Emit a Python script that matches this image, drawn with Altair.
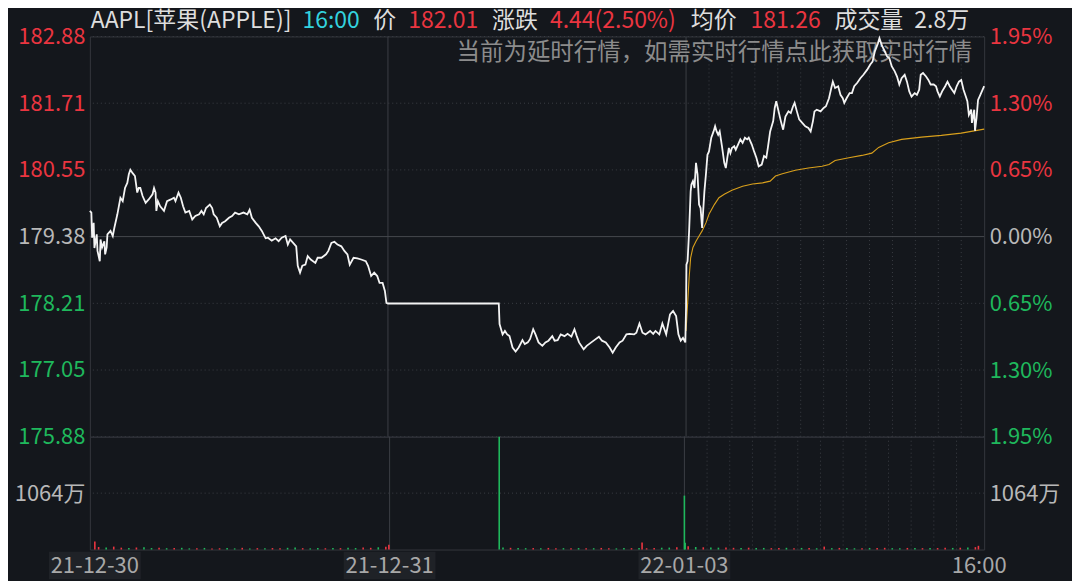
import altair as alt
import pandas as pd

FONT = "Noto Sans CJK SC"
BG = "#14171c"
RED = "#ea3540"
GREEN = "#1fb85c"
LABEL_GRAY = "#b8b8b8"
GRID = "#3b3e44"
BORDER = "#34373d"
LINE = "#f4f4f4"
AVG = "#d9a01c"
CYAN = "#33d2de"
WHITE_TXT = "#dedede"

SESSION = 390
session_labels = ["21-12-30", "21-12-31", "22-01-03", "16:00"]

price_ticks = [182.88, 181.71, 180.55, 179.38, 178.21, 177.05, 175.88]
pct_ticks = [1.95, 1.30, 0.65, 0.00, -0.65, -1.30, -1.95]
vol_max = 2128
vol_tick = 1064

# ---- minute price series per session (minutes after open) ----
d1_t = [0, 2, 3, 5, 6, 9, 10, 13, 14, 16, 19, 20, 22, 23, 27, 30, 32, 36, 40, 43,
        46, 49, 51, 53, 56, 59, 62, 64, 66, 69, 73, 77, 82, 84, 86, 87, 89, 92, 97, 101,
        106, 110, 112, 116, 119, 122, 125, 130, 134, 138, 143, 146, 149, 152, 157, 160, 162, 166, 170, 173,
        177, 182, 186, 190, 195, 201, 206, 209, 212, 217, 221, 225, 230, 233, 238, 243, 247, 251, 256, 259,
        262, 266, 270, 272, 275, 278, 282, 285, 289, 295, 298, 303, 309, 312, 316, 320, 324, 329, 333, 337,
        340, 345, 350, 355, 361, 364, 368, 372, 376, 379, 383, 386, 388, 390]
d1_p = [179.83, 179.80, 179.36, 179.62, 179.18, 179.42, 179.13, 178.95, 179.33, 179.19,
        179.30, 179.07, 179.19, 179.42, 179.48, 179.39, 179.53, 179.77, 180.06, 180.00,
        180.23, 180.32, 180.47, 180.55, 180.49, 180.44, 180.15, 180.23, 180.23, 180.09,
        179.97, 180.03, 180.12, 180.23, 180.15, 179.83, 180.00, 179.91, 179.83, 180.00,
        180.03, 180.06, 180.00, 180.15, 180.06, 179.91, 179.80, 179.83, 179.68, 179.74,
        179.77, 179.83, 179.77, 179.88, 179.94, 179.88, 179.77, 179.71, 179.56, 179.62,
        179.65, 179.71, 179.74, 179.80, 179.77, 179.80, 179.77, 179.85, 179.71, 179.62,
        179.56, 179.48, 179.35, 179.36, 179.31, 179.35, 179.30, 179.36, 179.39, 179.24,
        179.33, 179.27, 179.21, 178.87, 178.75, 178.87, 178.89, 179.04, 178.98, 178.92,
        179.01, 179.01, 179.07, 179.13, 179.27, 179.29, 179.24, 179.21, 179.13, 179.07,
        178.89, 179.01, 179.00, 178.98, 178.95, 178.87, 178.69, 178.75, 178.69, 178.57,
        178.57, 178.43, 178.22, 178.21]

d2_t = [0, 145, 146, 150, 153, 156, 159, 163, 167, 171, 176, 179, 183, 186, 190, 193, 197, 202, 206, 210,
        215, 218, 222, 226, 231, 235, 240, 244, 247, 250, 256, 260, 266, 270, 276, 280, 285, 290, 294, 298,
        303, 307, 312, 316, 322, 325, 329, 333, 337, 343, 347, 350, 355, 359, 364, 369, 373, 377, 380, 383,
        386, 389]
d2_p = [178.21, 178.21, 177.85, 177.67, 177.73, 177.67, 177.64, 177.44, 177.37, 177.44,
        177.57, 177.50, 177.53, 177.59, 177.76, 177.67, 177.53, 177.47, 177.53, 177.56,
        177.64, 177.56, 177.57, 177.67, 177.64, 177.68, 177.63, 177.76, 177.64, 177.53,
        177.41, 177.47, 177.53, 177.57, 177.63, 177.56, 177.53, 177.44, 177.35, 177.44,
        177.53, 177.56, 177.67, 177.68, 177.67, 177.70, 177.86, 177.70, 177.67, 177.73,
        177.68, 177.73, 177.67, 177.86, 177.67, 178.02, 178.08, 177.99, 177.67, 177.56,
        177.61, 177.53]

d3_t = [0, 0.5, 2, 4, 6, 7, 9, 11, 13, 15, 17, 19, 21, 24, 26, 28, 30, 33, 36, 38,
        40, 42, 44, 47, 50, 52, 54, 56, 58, 60, 63, 65, 68, 71, 74, 77, 80, 82, 86, 89,
        92, 95, 99, 102, 105, 107, 110, 114, 116, 118, 120, 124, 127, 130, 134, 137, 140, 142, 145, 148,
        152, 156, 160, 163, 166, 168, 171, 176, 180, 183, 187, 190, 192, 195, 199, 202, 205, 207, 210, 214,
        217, 220, 224, 228, 232, 237, 241, 244, 247, 251, 253, 256, 260, 263, 266, 269, 273, 276, 279, 282,
        286, 289, 292, 295, 299, 302, 305, 307, 310, 314, 317, 320, 324, 327, 329, 332, 335, 339, 342, 345,
        348, 351, 354, 357, 360, 363, 366, 368, 370, 373, 374, 377, 378, 380, 382, 384, 387, 389, 390]
d3_p = [178.14, 178.89, 178.95, 179.48, 180.17, 180.29, 180.35, 180.23, 180.67, 180.47,
        179.94, 179.88, 179.53, 180.17, 180.47, 180.81, 180.87, 181.11, 181.22, 181.31,
        181.22, 181.16, 181.22, 180.96, 180.67, 180.58, 180.76, 180.93, 180.84, 180.93,
        180.96, 180.90, 180.99, 181.08, 181.02, 181.11, 181.08, 181.11, 180.99, 180.87,
        180.76, 180.61, 180.64, 180.79, 180.76, 180.93, 181.22, 181.40, 181.63, 181.75,
        181.63, 181.40, 181.25, 181.48, 181.57, 181.54, 181.66, 181.72, 181.57, 181.43,
        181.37, 181.31, 181.28, 181.22, 181.40, 181.57, 181.60, 181.57, 181.63, 181.66,
        181.80, 181.98, 182.09, 181.98, 182.01, 181.86, 181.80, 181.72, 181.80, 181.89,
        181.89, 182.01, 182.07, 182.15, 182.21, 182.30, 182.39, 182.44, 182.62, 182.76,
        182.85, 182.73, 182.62, 182.53, 182.50, 182.36, 182.27, 182.18, 182.04, 182.15,
        182.21, 182.09, 181.92, 181.83, 181.89, 181.86, 181.95, 182.21, 182.24, 182.18,
        182.12, 182.04, 182.04, 182.01, 181.92, 181.83, 181.92, 182.01, 182.09, 182.01,
        181.95, 181.89, 182.01, 182.09, 182.12, 181.95, 181.83, 181.75, 181.51, 181.60,
        181.37, 181.60, 181.23, 181.45, 181.77, 181.83, 181.92, 181.98, 182.01]

# average price (session 3 only)
avg_t = [0, 2, 4, 6, 9, 13, 17, 21, 26, 30, 37, 43, 50, 60, 74, 87, 100, 110, 117, 126,
         143, 160, 178, 187, 195, 213, 230, 243, 252, 265, 282, 308, 334, 360, 390]
avg_p = [177.73, 178.20, 178.66, 179.01, 179.19, 179.30, 179.39, 179.48, 179.62, 179.77,
         179.94, 180.06, 180.12, 180.19, 180.26, 180.30, 180.32, 180.35, 180.44, 180.48,
         180.54, 180.58, 180.61, 180.64, 180.71, 180.76, 180.80, 180.84, 180.94, 181.02,
         181.08, 181.12, 181.15, 181.19, 181.26]

# ---- volume (万) ----
d1_vol = [48, 40, 55, 35, 30, 38, 42, 28, 33, 25, 28, 32, 22, 26, 30, 20, 24, 27, 22, 32,
          20, 26, 22, 28, 24, 32, 36, 26, 22, 28, 24, 30, 26, 32, 28, 36, 32, 42, 50]
d1_dir = ["r", "g", "r", "r", "g", "r", "g", "g", "r", "g", "r", "g", "g", "r", "g", "r", "r", "g", "g", "r",
          "g", "r", "g", "r", "r", "g", "g", "r", "g", "g", "r", "g", "r", "g", "g", "r", "r", "g", "r"]
d2_vol = [40, 32, 30, 26, 28, 24, 30, 22, 26, 24, 28, 22, 25, 30, 26, 22, 28, 26, 30, 24, 28, 34, 36, 42]
d2_dir = ["g", "r", "g", "g", "r", "g", "r", "r", "g", "r", "g", "r", "g", "r", "r", "g", "g", "r", "g", "r",
          "r", "g", "g", "r"]
d3_vol = [60, 48, 42, 38, 35, 40, 32, 30, 34, 28, 30, 26, 28, 32, 26, 30, 28, 24, 55, 26,
          30, 28, 24, 26, 30, 28, 32, 26, 24, 30, 28, 26, 30, 28, 32, 30, 34, 38, 45]
d3_dir = ["r", "g", "r", "g", "g", "r", "r", "g", "r", "g", "g", "r", "r", "g", "r", "g", "r", "g", "r", "g",
          "r", "g", "g", "r", "g", "r", "r", "g", "g", "r", "g", "r", "g", "r", "r", "g", "r", "g", "r"]
spike_s = [0, 0, 1, 1, 2, 2, 2]
spike_t = [0, 389, 145, 334, 0, 1, 389]
spike_v = [150, 90, 2128, 132, 1017, 130, 70]
spike_d = ["r", "r", "g", "r", "g", "g", "r"]

half_hours = [30, 60, 90, 120, 150, 180, 210, 240, 270, 300, 330, 360]

# ---- tables ----
rows = []
for s, (ts, ps) in enumerate([(d1_t, d1_p), (d2_t, d2_p), (d3_t, d3_p)]):
    for t, p in zip(ts, ps):
        rows.append({"t": s * SESSION + t, "p": p})
price_df = pd.DataFrame(rows)
avg_df = pd.DataFrame({"t": [2 * SESSION + t for t in avg_t], "p": avg_p})

vrows = []
for s, (vals, dirs, times) in enumerate([(d1_vol, d1_dir, range(5, 390, 10)),
                                         (d2_vol, d2_dir, range(150, 390, 10)),
                                         (d3_vol, d3_dir, range(5, 390, 10))]):
    for t, v, d in zip(times, vals, dirs):
        vrows.append({"t": s * SESSION + t, "v": v, "d": d})
for s, t, v, d in zip(spike_s, spike_t, spike_v, spike_d):
    vrows.append({"t": s * SESSION + t, "v": v, "d": d})
vol_df = pd.DataFrame(vrows)

sep_df = pd.DataFrame({"t": [SESSION, 2 * SESSION]})
dot_df = pd.DataFrame({"t": [2 * SESSION + h for h in half_hours]})
hgrid_df = pd.DataFrame({"pct": pct_ticks})
xlab_df = pd.DataFrame({"t": [0, SESSION, 2 * SESSION, 3 * SESSION], "label": session_labels})
one = pd.DataFrame({"k": [0]})

W, H1, H2 = 896, 401, 113
LEFT, TOP, RIGHT, BOTTOM = 81, 27, 87, 24
x_scale = alt.Scale(domain=[0, 3 * SESSION], nice=False, zero=False)
X = alt.X("t:Q", scale=x_scale, axis=None)
p_scale = alt.Scale(domain=[price_ticks[-1], price_ticks[0]], nice=False, zero=False)
pct_scale = alt.Scale(domain=[pct_ticks[-1], pct_ticks[0]], nice=False, zero=False)
v_scale = alt.Scale(domain=[0, vol_max], nice=False)

base_axis = dict(domain=False, ticks=False, grid=False, title=None, labelFont=FONT,
                 labelFontSize=22, labelPadding=5, labelOverlap=False)

left_axis = alt.Axis(orient="left", values=price_ticks,
                     labelExpr="format(datum.value, '.2f')",
                     labelColor={"condition": [{"test": "datum.value > 179.4", "value": RED},
                                               {"test": "datum.value < 179.3", "value": GREEN}],
                                 "value": LABEL_GRAY},
                     **base_axis)
right_axis = alt.Axis(orient="right", values=pct_ticks,
                      labelExpr="format(abs(datum.value), '.2f') + '%'",
                      labelColor={"condition": [{"test": "datum.value > 0.01", "value": RED},
                                                {"test": "datum.value < -0.01", "value": GREEN}],
                                  "value": LABEL_GRAY},
                      **base_axis)

vrule_solid = alt.Chart(sep_df).mark_rule(color=GRID, strokeWidth=1).encode(x=X)
vrule_dot = alt.Chart(dot_df).mark_rule(color=GRID, strokeWidth=1, strokeDash=[1, 3]).encode(x=X)

hgrid_dot = alt.Chart(hgrid_df).transform_filter("datum.pct != 0").mark_rule(
    color=GRID, strokeWidth=1, strokeDash=[1, 3]).encode(
    y=alt.Y("pct:Q", scale=pct_scale, axis=right_axis))
hgrid_solid = alt.Chart(hgrid_df).transform_filter("datum.pct == 0").mark_rule(
    color="#45484e", strokeWidth=1).encode(y=alt.Y("pct:Q", scale=pct_scale, axis=None))

price_line = alt.Chart(price_df).mark_line(color=LINE, strokeWidth=1.8).encode(
    x=X, y=alt.Y("p:Q", scale=p_scale, axis=left_axis))
avg_line = alt.Chart(avg_df).mark_line(color=AVG, strokeWidth=1.1).encode(
    x=X, y=alt.Y("p:Q", scale=p_scale, axis=None))

# invisible frame that fixes the layout bounds (top-left / bottom-right corners)
anchor_top = alt.Chart(one).mark_rule(opacity=0, strokeWidth=0.01).encode(
    x=alt.value(-LEFT), x2=alt.value(W + RIGHT), y=alt.value(-TOP))
anchor_bottom = alt.Chart(one).mark_rule(opacity=0, strokeWidth=0.01).encode(
    x=alt.value(-LEFT), x2=alt.value(W + RIGHT), y=alt.value(H2 + BOTTOM))


def txt(text, x, color, y=-8.6, size=23, align="left", baseline="alphabetic"):
    return alt.Chart(one).mark_text(text=text, color=color, font=FONT, fontSize=size,
                                    align=align, baseline=baseline).encode(
        x=alt.value(x), y=alt.value(y))


title_parts = [
    txt("AAPL[苹果(APPLE)]", 1, WHITE_TXT),
    txt("16:00", 213, CYAN),
    txt("价", 284, WHITE_TXT),
    txt("182.01", 319, RED),
    txt("涨跌", 403, WHITE_TXT),
    txt("4.44(2.50%)", 461, RED),
    txt("均价", 602, WHITE_TXT),
    txt("181.26", 662, RED),
    txt("成交量", 746, WHITE_TXT),
    txt("2.8万", 826, WHITE_TXT),
]
watermark = txt("当前为延时行情，如需实时行情点此获取实时行情", 884, "#8c8c8c", y=17, size=23.5,
                align="right", baseline="middle")

price_panel = alt.layer(
    anchor_top, vrule_solid, vrule_dot, hgrid_dot, hgrid_solid, watermark, avg_line, price_line, *title_parts
).resolve_scale(y="independent").properties(width=W, height=H1)

vol_left = alt.Axis(orient="left", values=[vol_tick], labelExpr="format(datum.value, 'd') + '万'",
                    labelColor=LABEL_GRAY, **base_axis)
vol_right = alt.Axis(orient="right", values=[vol_tick], labelExpr="format(datum.value, 'd') + '万'",
                     labelColor=LABEL_GRAY, **base_axis)

vol_grid = alt.Chart(pd.DataFrame({"v": [vol_tick]})).mark_rule(
    color=GRID, strokeWidth=1, strokeDash=[1, 3]).encode(
    y=alt.Y("v:Q", scale=v_scale, axis=vol_right))
bars = alt.Chart(vol_df).mark_bar(size=1.6).encode(
    x=X, y=alt.Y("v:Q", scale=v_scale, axis=vol_left),
    color=alt.Color("d:N", scale=alt.Scale(domain=["r", "g"], range=[RED, GREEN]), legend=None))

BOX = "M-1,-0.3L1,-0.3L1,0.3L-1,0.3Z"
xbox = alt.Chart(xlab_df).transform_filter("datum.t < 1170").mark_point(
    shape=BOX, size=8464, filled=True, color="#1f2227", opacity=1, strokeWidth=0).encode(
    x=X, y=alt.value(H2 + 16))
xtext = alt.Chart(xlab_df).mark_text(font=FONT, fontSize=22, color="#a8a8a8", baseline="middle").encode(
    x=X, y=alt.value(H2 + 17), text="label:N")

vol_panel = alt.layer(
    anchor_bottom, vrule_solid, vrule_dot, vol_grid, bars, xbox, xtext
).resolve_scale(y="independent").properties(width=W, height=H2)

chart = alt.vconcat(price_panel, vol_panel, spacing=0, bounds="flush").properties(
    padding=0,
).configure(background=BG).configure_view(stroke=BORDER, strokeWidth=1, fill=BG)

chart.save("out.html", embed_options={"renderer": "svg", "actions": False})
